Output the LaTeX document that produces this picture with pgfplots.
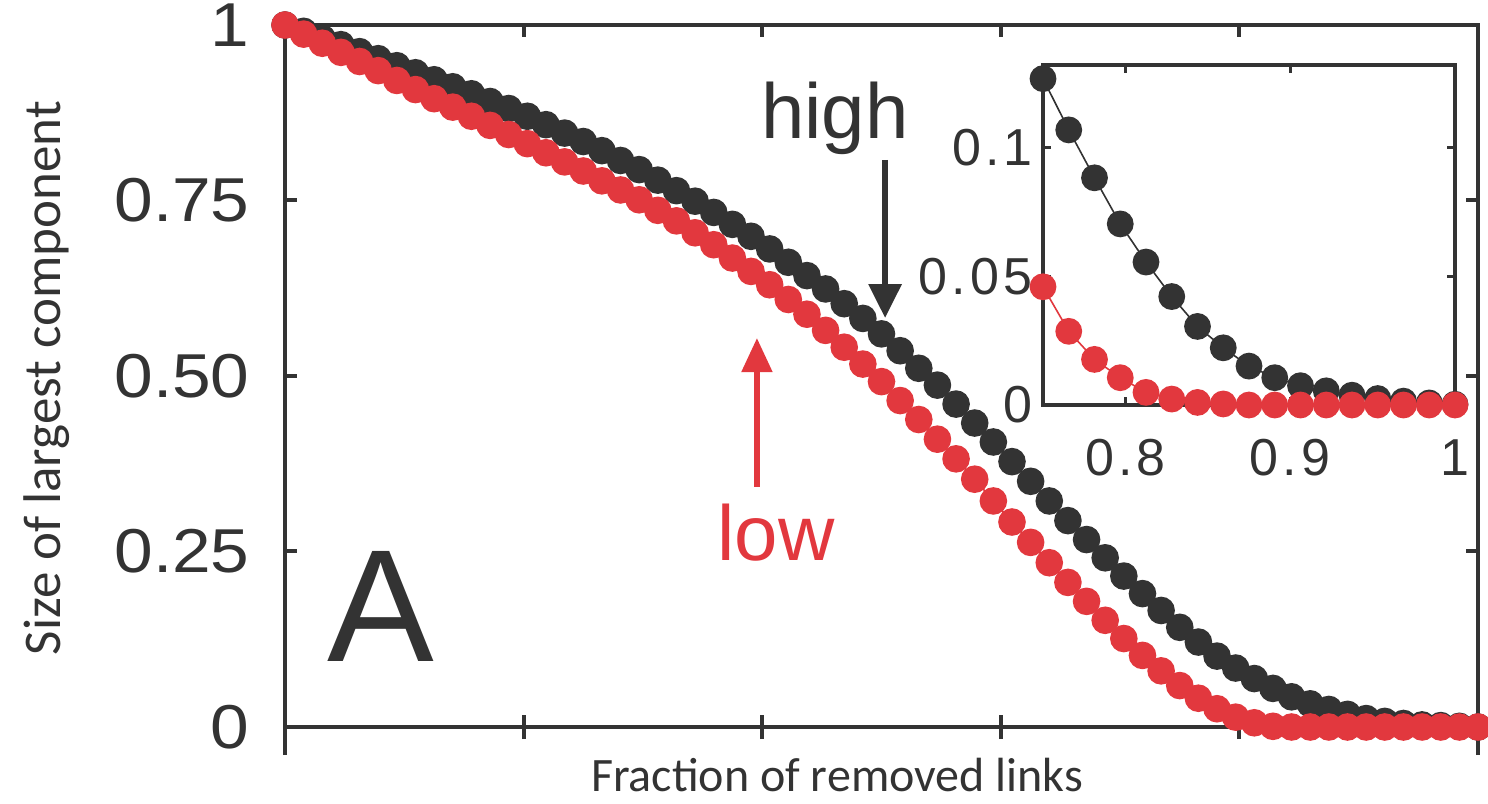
\documentclass[border=0pt]{standalone}
\usepackage{pgfplots}
\pgfplotsset{compat=1.18}
\usepackage{fontspec}
\setmainfont{Liberation Sans}
\newfontfamily\tickfont[FakeStretch=1.12]{Liberation Sans}
\newfontfamily\insetfont[LetterSpace=8]{Liberation Sans}
\newfontfamily\labelfont{Carlito}
\usetikzlibrary{arrows.meta}
\definecolor{dk}{RGB}{51,51,51}
\definecolor{rd}{RGB}{226,56,62}
\pgfplotsset{mainframe/.style={
  at={(142.5pt,38pt)}, anchor=south west,
  width=596.5pt, height=351pt, scale only axis,
  xmin=0, xmax=1, ymin=0, ymax=1,
  axis line style={line width=2pt, dk},
  tick style={line width=2pt, dk}}}

\begin{document}
\begin{tikzpicture}
\path[use as bounding box] (0pt,0pt) rectangle (744pt,401.5pt);
% outward parts of the bottom ticks
\begin{axis}[mainframe, axis x line*=bottom, axis y line=none,
  tick align=outside, major tick length=6pt,
  xtick={0.2,0.4,0.6,0.8}, xticklabels={}, ytick=\empty]
\end{axis}
\begin{axis}[mainframe, axis x line*=bottom, axis y line=none,
  tick align=outside, major tick length=14pt,
  xtick={0,1}, xticklabels={}, ytick=\empty]
\end{axis}
\begin{axis}[
  mainframe,
  clip=false,
  major tick length=6pt,
  tick align=inside,
  xtick={0,0.2,0.4,0.6,0.8,1}, xticklabels={},
  ytick={0,0.25,0.5,0.75,1}, yticklabels={0,0.25,0.50,0.75,1},
  yticklabel style={font={\tickfont\fontsize{31}{31}\selectfont}, text=dk, inner sep=0pt, xshift=-17.5pt},
  xlabel={Fraction of removed links},
  ylabel={Size of largest component},
  xlabel style={font={\labelfont\fontsize{24}{24}\selectfont}, text=dk, anchor=center, at={(axis description cs:0.4627,-0.0684)}},
  ylabel style={font={\labelfont\fontsize{26.5}{26.5}\selectfont}, text=dk, anchor=center, at={(axis description cs:-0.1995,0.497)}},
]
\addplot[dk, line width=0.8pt, mark=*, mark size=6.5pt, mark options={fill=dk, draw=none}] table {
x y
0.000000 1.000
0.015625 0.991
0.031250 0.981
0.046875 0.972
0.062500 0.962
0.078125 0.952
0.093750 0.942
0.109375 0.932
0.125000 0.922
0.140625 0.912
0.156250 0.902
0.171875 0.891
0.187500 0.881
0.203125 0.870
0.218750 0.858
0.234375 0.846
0.250000 0.834
0.265625 0.821
0.281250 0.807
0.296875 0.794
0.312500 0.779
0.328125 0.764
0.343750 0.749
0.359375 0.733
0.375000 0.716
0.390625 0.699
0.406250 0.681
0.421875 0.662
0.437500 0.643
0.453125 0.624
0.468750 0.603
0.484375 0.582
0.500000 0.560
0.515625 0.536
0.531250 0.511
0.546875 0.487
0.562500 0.460
0.578125 0.433
0.593750 0.406
0.609375 0.378
0.625000 0.350
0.640625 0.322
0.656250 0.294
0.671875 0.267
0.687500 0.241
0.703125 0.215
0.718750 0.190
0.734375 0.166
0.750000 0.142
0.765625 0.121
0.781250 0.101
0.796875 0.084
0.812500 0.069
0.828125 0.055
0.843750 0.043
0.859375 0.033
0.875000 0.025
0.890625 0.018
0.906250 0.012
0.921875 0.008
0.937500 0.005
0.953125 0.003
0.968750 0.002
0.984375 0.001
1.000000 0.000
};
\addplot[rd, line width=0.8pt, mark=*, mark size=6.5pt, mark options={fill=rd, draw=none}] table {
x y
0.000000 1.000
0.015625 0.987
0.031250 0.974
0.046875 0.961
0.062500 0.948
0.078125 0.935
0.093750 0.921
0.109375 0.908
0.125000 0.895
0.140625 0.883
0.156250 0.870
0.171875 0.857
0.187500 0.844
0.203125 0.831
0.218750 0.818
0.234375 0.805
0.250000 0.792
0.265625 0.778
0.281250 0.765
0.296875 0.751
0.312500 0.736
0.328125 0.721
0.343750 0.704
0.359375 0.687
0.375000 0.668
0.390625 0.649
0.406250 0.630
0.421875 0.609
0.437500 0.588
0.453125 0.565
0.468750 0.541
0.484375 0.517
0.500000 0.492
0.515625 0.465
0.531250 0.438
0.546875 0.410
0.562500 0.382
0.578125 0.353
0.593750 0.322
0.609375 0.292
0.625000 0.263
0.640625 0.234
0.656250 0.206
0.671875 0.179
0.687500 0.152
0.703125 0.126
0.718750 0.102
0.734375 0.080
0.750000 0.059
0.765625 0.041
0.781250 0.026
0.796875 0.014
0.812500 0.006
0.828125 0.001
0.843750 0.000
0.859375 0.000
0.875000 0.000
0.890625 0.000
0.906250 0.000
0.921875 0.000
0.937500 0.000
0.953125 0.000
0.968750 0.000
0.984375 0.000
1.000000 0.000
};
\draw[dk, line width=3.2pt, -{Triangle[width=16pt,length=17pt]}] (axis cs:0.503,0.8077) -- (axis cs:0.503,0.5826);
\draw[rd, line width=2.6pt, -{Triangle[width=15pt,length=17pt]}] (axis cs:0.3956,0.342) -- (axis cs:0.3956,0.554);
\node[text=dk, inner sep=0pt, anchor=center, font={\fontsize{39}{39}\selectfont}] at (axis cs:0.461,0.8675) {high};
\node[text=rd, inner sep=0pt, anchor=center, font={\fontsize{39}{39}\selectfont}] at (axis cs:0.4116,0.2764) {low};
\node[text=dk, inner sep=0pt, anchor=center, font={\fontsize{80}{80}\selectfont}] at (axis cs:0.0805,0.172) {A};
\end{axis}

\begin{axis}[
  at={(521.5pt,199pt)}, anchor=south west,
  width=206pt, height=170pt, scale only axis,
  xmin=0.75, xmax=1, ymin=0, ymax=0.132,
  clip=false,
  axis background/.style={fill=white},
  axis line style={line width=2pt, dk},
  tick style={line width=1.5pt, dk},
  major tick length=4pt,
  tick align=inside,
  xtick={0.8,0.9,1}, xticklabels={0.8,0.9,1},
  ytick={0,0.05,0.1}, yticklabels={0,0.05,0.1},
  xticklabel style={font={\insetfont\fontsize{26}{26}\selectfont}, text=dk, inner sep=0pt, yshift=-17pt},
  yticklabel style={font={\insetfont\fontsize{26}{26}\selectfont}, text=dk, inner sep=0pt, xshift=-5pt},
]
\addplot[dk, line width=0.8pt, mark=*, mark size=6.3pt, mark options={fill=dk, draw=none}] table {
x y
0.750000 0.1267
0.765625 0.1068
0.781250 0.0882
0.796875 0.0703
0.812500 0.0555
0.828125 0.0421
0.843750 0.0305
0.859375 0.0222
0.875000 0.0151
0.890625 0.0106
0.906250 0.0075
0.921875 0.0055
0.937500 0.0038
0.953125 0.0025
0.968750 0.0015
0.984375 0.0008
1.000000 0.0003
};
\addplot[rd, line width=0.8pt, mark=*, mark size=6.3pt, mark options={fill=rd, draw=none}] table {
x y
0.750000 0.0459
0.765625 0.0286
0.781250 0.0177
0.796875 0.0106
0.812500 0.0049
0.828125 0.0023
0.843750 0.0010
0.859375 0.0004
0.875000 0.0000
0.890625 0.0000
0.906250 0.0000
0.921875 0.0000
0.937500 0.0000
0.953125 0.0000
0.968750 0.0000
0.984375 0.0000
1.000000 0.0000
};
\end{axis}
\end{tikzpicture}
\end{document}
